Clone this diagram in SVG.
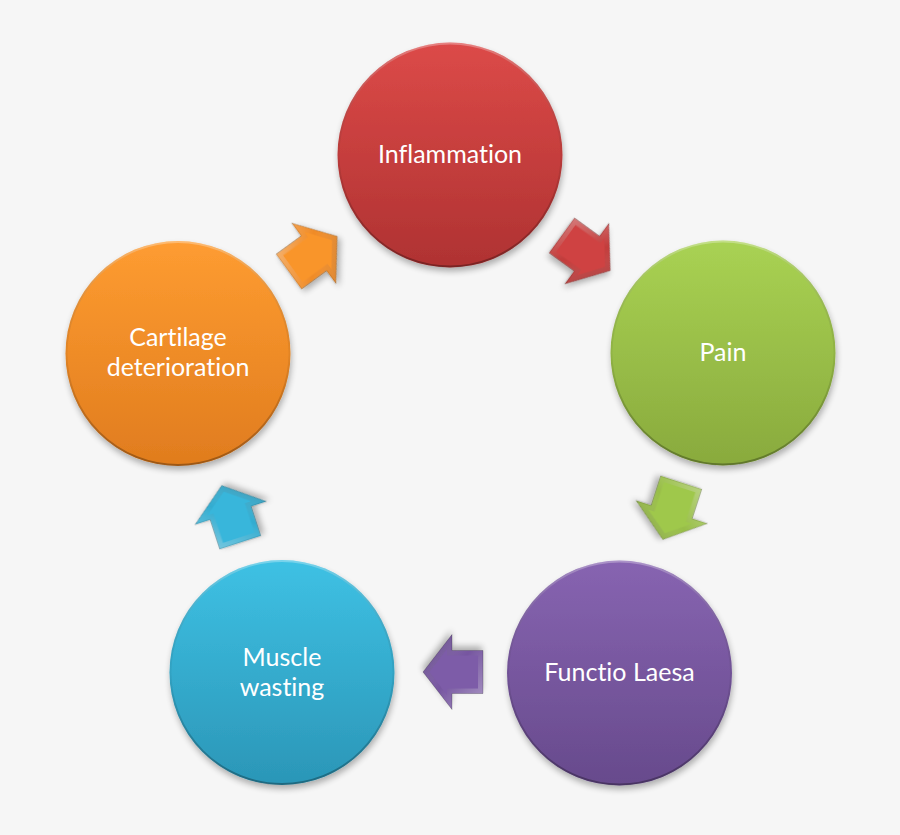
<svg xmlns="http://www.w3.org/2000/svg" width="900" height="835" viewBox="0 0 900 835">
  <defs>
    <filter id="shadow" x="-20%" y="-20%" width="140%" height="140%">
      <feGaussianBlur in="SourceAlpha" stdDeviation="3"/>
      <feOffset dx="1" dy="4" result="b"/>
      <feComponentTransfer><feFuncA type="linear" slope="0.3"/></feComponentTransfer>
      <feMerge><feMergeNode/><feMergeNode in="SourceGraphic"/></feMerge>
    </filter>
    <linearGradient id="rim" x1="0" y1="0" x2="0" y2="1">
      <stop offset="0" stop-color="#ffffff" stop-opacity="0.3"/>
      <stop offset="0.5" stop-color="#000000" stop-opacity="0.05"/>
      <stop offset="1" stop-color="#000000" stop-opacity="0.3"/>
    </linearGradient>
    <linearGradient id="gRed" x1="0" y1="0" x2="0" y2="1">
      <stop offset="0" stop-color="#dc4a48"/><stop offset="1" stop-color="#af3232"/>
    </linearGradient>
    <linearGradient id="gGreen" x1="0" y1="0" x2="0" y2="1">
      <stop offset="0" stop-color="#a9d253"/><stop offset="1" stop-color="#89aa3d"/>
    </linearGradient>
    <linearGradient id="gPurple" x1="0" y1="0" x2="0" y2="1">
      <stop offset="0" stop-color="#8764b1"/><stop offset="1" stop-color="#674a8c"/>
    </linearGradient>
    <linearGradient id="gCyan" x1="0" y1="0" x2="0" y2="1">
      <stop offset="0" stop-color="#3ec1e4"/><stop offset="1" stop-color="#2b96b7"/>
    </linearGradient>
    <linearGradient id="gOrange" x1="0" y1="0" x2="0" y2="1">
      <stop offset="0" stop-color="#fe9c31"/><stop offset="1" stop-color="#e07c1e"/>
    </linearGradient>
    <linearGradient id="aHi" x1="0" y1="0" x2="1" y2="1">
      <stop offset="0" stop-color="#ffffff" stop-opacity="0.4"/>
      <stop offset="0.5" stop-color="#ffffff" stop-opacity="0"/>
      <stop offset="1" stop-color="#000000" stop-opacity="0.3"/>
    </linearGradient>
    <polygon id="arrowOuter" points="-30,-21.5 1,-21.5 1,-37.5 30,0 1,37.5 1,21.5 -30,21.5"/>
    <polygon id="arrowInner" points="-25,-16.5 6,-16.5 6,-23 23.5,0 6,23 6,16.5 -25,16.5"/>
  </defs>
  <style>
    .lbl { font-family: Lato, "Open Sans", "Liberation Sans", sans-serif; font-size: 25px; fill: #ffffff; text-anchor: middle; font-variant-ligatures: none; }
    .circ { filter: url(#shadow); }
    .rim { fill: none; stroke: url(#rim); stroke-width: 2; }
    .hi { fill: url(#aHi); }
    .edge { fill: none; stroke: #000000; stroke-opacity: 0.25; stroke-width: 0.8; }
  </style>
  <rect width="900" height="835" fill="#f6f6f6"/>

  <g id="connectors">
    <g id="arrow-red" transform="translate(586,253) rotate(35.95)" filter="url(#shadow)">
      <use href="#arrowOuter" fill="#c23c3b"/>
      <use href="#arrowOuter" class="hi"/>
      <use href="#arrowInner" fill="#cf4342"/>
      <use href="#arrowOuter" class="edge"/>
    </g>
    <g id="arrow-green" transform="translate(672,511) rotate(107.9)" filter="url(#shadow)">
      <use href="#arrowOuter" fill="#98be47"/>
      <use href="#arrowOuter" class="hi"/>
      <use href="#arrowInner" fill="#9fc84c"/>
      <use href="#arrowOuter" class="edge"/>
    </g>
    <g id="arrow-purple" transform="translate(453,672) rotate(180)" filter="url(#shadow)">
      <use href="#arrowOuter" fill="#7656a0"/>
      <use href="#arrowOuter" class="hi"/>
      <use href="#arrowInner" fill="#7d5ca8"/>
      <use href="#arrowOuter" class="edge"/>
    </g>
    <g id="arrow-cyan" transform="translate(231,514) rotate(251.94)" filter="url(#shadow)">
      <use href="#arrowOuter" fill="#33acd0"/>
      <use href="#arrowOuter" class="hi"/>
      <use href="#arrowInner" fill="#38b6db"/>
      <use href="#arrowOuter" class="edge"/>
    </g>
    <g id="arrow-orange" transform="translate(313,254) rotate(-36.1)" filter="url(#shadow)">
      <use href="#arrowOuter" fill="#f08b26"/>
      <use href="#arrowOuter" class="hi"/>
      <use href="#arrowInner" fill="#f9952c"/>
      <use href="#arrowOuter" class="edge"/>
    </g>
  </g>

  <g id="node-inflammation">
    <circle class="circ" cx="450" cy="155" r="112.5" fill="url(#gRed)"/>
    <circle class="rim" cx="450" cy="155" r="111.5"/>
    <text class="lbl" x="450" y="163">Inflammation</text>
  </g>
  <g id="node-pain">
    <circle class="circ" cx="723" cy="353" r="112.5" fill="url(#gGreen)"/>
    <circle class="rim" cx="723" cy="353" r="111.5"/>
    <text class="lbl" x="723" y="361">Pain</text>
  </g>
  <g id="node-functio">
    <circle class="circ" cx="619.5" cy="673" r="112.5" fill="url(#gPurple)"/>
    <circle class="rim" cx="619.5" cy="673" r="111.5"/>
    <text class="lbl" x="619.5" y="681">Functio Laesa</text>
  </g>
  <g id="node-muscle">
    <circle class="circ" cx="282" cy="672.5" r="112.5" fill="url(#gCyan)"/>
    <circle class="rim" cx="282" cy="672.5" r="111.5"/>
    <text class="lbl" x="282" y="666">Muscle</text>
    <text class="lbl" x="282" y="696">wasting</text>
  </g>
  <g id="node-cartilage">
    <circle class="circ" cx="178" cy="353.5" r="112.5" fill="url(#gOrange)"/>
    <circle class="rim" cx="178" cy="353.5" r="111.5"/>
    <text class="lbl" x="178" y="346">Cartilage</text>
    <text class="lbl" x="178" y="376">deterioration</text>
  </g>
</svg>
